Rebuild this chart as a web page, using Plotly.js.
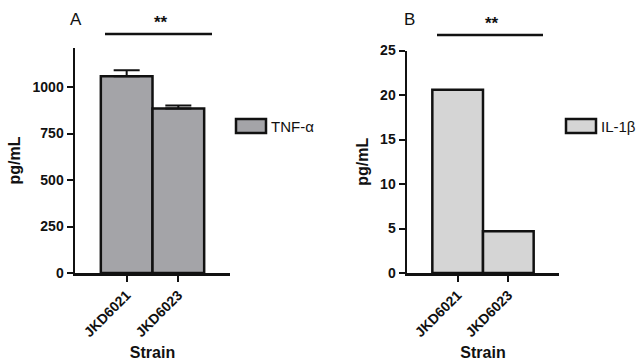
<!DOCTYPE html>
<html><head><meta charset="utf-8">
<script src="https://cdn.plot.ly/plotly-3.0.1.min.js"></script>
<style>body{margin:0;background:#fff}#c{width:639px;height:362px}</style>
</head><body><div id="c"></div>
<script>
const strains = ["JKD6021", "JKD6023"];
const tnfValues = [1058, 885];
const tnfErrors = [32, 16];
const il1bValues = [20.6, 4.7];
const tnfTicks = [0, 250, 500, 750, 1000];
const il1bTicks = [0, 5, 10, 15, 20, 25];
const seriesNames = ["TNF-α", "IL-1β"];

const W = 639, H = 362;
const px = x => x / W;
const py = y => 1 - y / H;
const F = "Liberation Sans, Arial, sans-serif";
const black = "#111";

const traces = [
  {type: "bar", x: strains, y: tnfValues, xaxis: "x", yaxis: "y", name: seriesNames[0],
   marker: {color: "#a4a4a8", line: {color: black, width: 2.5}},
   error_y: {type: "data", array: tnfErrors, arrayminus: [0, 0], symmetric: false,
             color: black, thickness: 2, width: 13},
   showlegend: false},
  {type: "bar", x: strains, y: il1bValues, xaxis: "x2", yaxis: "y2", name: seriesNames[1],
   marker: {color: "#d5d5d5", line: {color: black, width: 2.5}},
   showlegend: false}
];

const xCommon = {type: "category", range: [-1, 2], showline: true, linecolor: black, linewidth: 2.5,
  ticks: "outside", ticklen: 6, tickwidth: 2, tickcolor: black, tickangle: -45,
  tickfont: {family: F, size: 14, color: black, weight: "bold"}, showgrid: false, zeroline: false,
  title: {text: "<b>Strain</b>", font: {family: F, size: 16, color: black}, standoff: 8}};
const yCommon = {showline: true, linecolor: black, linewidth: 2.5, ticks: "outside", ticklen: 6,
  tickwidth: 2, tickcolor: black, tickfont: {family: F, size: 14, color: black, weight: "bold"},
  showgrid: false, zeroline: false,
  title: {text: "<b>pg/mL</b>", font: {family: F, size: 16, color: black}, standoff: 8}};

const layout = {
  width: W, height: H, margin: {l: 0, r: 0, t: 0, b: 0},
  paper_bgcolor: "#fff", plot_bgcolor: "#fff", bargap: 0,
  xaxis: Object.assign({}, xCommon, {domain: [px(75), px(230)], anchor: "y"}),
  yaxis: Object.assign({}, yCommon, {domain: [py(273), py(48)], anchor: "x", range: [0, 1210],
          tickvals: tnfTicks, ticktext: tnfTicks.map(String)}),
  xaxis2: Object.assign({}, xCommon, {domain: [px(407), px(559)], anchor: "y2"}),
  yaxis2: Object.assign({}, yCommon, {domain: [py(273), py(50.5)], anchor: "x2", range: [0, 25],
          tickvals: il1bTicks, ticktext: il1bTicks.map(String)}),
  shapes: [
    {type: "line", xref: "paper", yref: "paper", x0: px(105), x1: px(212), y0: py(34), y1: py(34),
     line: {color: black, width: 2.5}},
    {type: "line", xref: "paper", yref: "paper", x0: px(437), x1: px(543), y0: py(35), y1: py(35),
     line: {color: black, width: 2.5}},
    {type: "rect", xref: "paper", yref: "paper", x0: px(236), x1: px(266), y0: py(133), y1: py(119),
     fillcolor: "#a4a4a8", line: {color: black, width: 2.5}},
    {type: "rect", xref: "paper", yref: "paper", x0: px(566), x1: px(596), y0: py(133), y1: py(119),
     fillcolor: "#d5d5d5", line: {color: black, width: 2.5}}
  ],
  annotations: [
    {xref: "paper", yref: "paper", x: px(76), y: py(20), xanchor: "center", yanchor: "middle", text: "A",
     showarrow: false, font: {family: F, size: 17, color: black}},
    {xref: "paper", yref: "paper", x: px(409), y: py(20), xanchor: "center", yanchor: "middle", text: "B",
     showarrow: false, font: {family: F, size: 17, color: black}},
    {xref: "paper", yref: "paper", x: px(161), y: py(34), xanchor: "center", yanchor: "bottom",
     text: "<b>**</b>", showarrow: false, font: {family: F, size: 17, color: black}},
    {xref: "paper", yref: "paper", x: px(492), y: py(35), xanchor: "center", yanchor: "bottom",
     text: "<b>**</b>", showarrow: false, font: {family: F, size: 17, color: black}},
    {xref: "paper", yref: "paper", x: px(269), y: py(126), xanchor: "left", yanchor: "middle",
     text: seriesNames[0], showarrow: false, font: {family: F, size: 15, color: black}},
    {xref: "paper", yref: "paper", x: px(599), y: py(126), xanchor: "left", yanchor: "middle",
     text: seriesNames[1], showarrow: false, font: {family: F, size: 15, color: black}}
  ]
};
Plotly.newPlot("c", traces, layout, {displayModeBar: false, staticPlot: true});
</script></body></html>
